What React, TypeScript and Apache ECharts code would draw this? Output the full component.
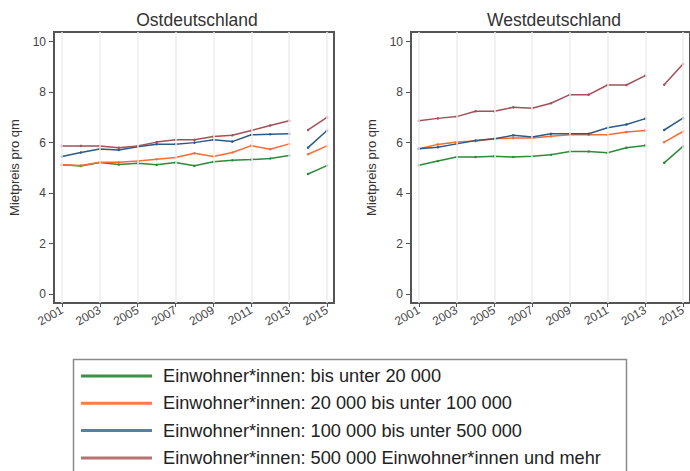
import React, { useEffect, useRef } from "react";
import * as echarts from "echarts";

const years = [2001, 2002, 2003, 2004, 2005, 2006, 2007, 2008, 2009, 2010, 2011, 2012, 2013, 2014, 2015];
const tickYears = [2001, 2003, 2005, 2007, 2009, 2011, 2013, 2015];
const yTicks = [0, 2, 4, 6, 8, 10];

const seriesNames = [
  "Einwohner*innen: bis unter 20 000",
  "Einwohner*innen: 20 000 bis unter 100 000",
  "Einwohner*innen: 100 000 bis unter 500 000",
  "Einwohner*innen: 500 000 Einwohner*innen und mehr",
];
const seriesColors = ["#2f8a3a", "#ff6a33", "#2e5a86", "#a3505a"];
const legendColors = ["#3d9145", "#ff7a45", "#5a7fa6", "#b57373"];
const panelTitles = ["Ostdeutschland", "Westdeutschland"];
const yAxisName = "Mietpreis pro qm";

// Ostdeutschland
const ostSmall = [5.12, 5.07, 5.21, 5.13, 5.18, 5.12, 5.21, 5.08, 5.24, 5.3, 5.33, 5.37, 5.49, 4.76, 5.09];
const ostMid = [5.12, 5.09, 5.22, 5.22, 5.27, 5.34, 5.41, 5.58, 5.45, 5.61, 5.88, 5.74, 5.95, 5.54, 5.87];
const ostLarge = [5.45, 5.61, 5.75, 5.71, 5.84, 5.94, 5.94, 6.0, 6.11, 6.04, 6.31, 6.33, 6.35, 5.8, 6.48];
const ostMetro = [5.87, 5.87, 5.87, 5.8, 5.87, 6.02, 6.11, 6.11, 6.24, 6.29, 6.48, 6.68, 6.87, 6.5, 7.0];

// Westdeutschland
const westSmall = [5.1, 5.27, 5.43, 5.43, 5.46, 5.43, 5.46, 5.52, 5.65, 5.65, 5.6, 5.8, 5.89, 5.2, 5.85];
const westMid = [5.76, 5.93, 6.02, 6.06, 6.15, 6.18, 6.18, 6.25, 6.31, 6.31, 6.31, 6.42, 6.48, 6.02, 6.44];
const westLarge = [5.76, 5.82, 5.95, 6.08, 6.15, 6.29, 6.22, 6.35, 6.35, 6.35, 6.59, 6.72, 6.95, 6.5, 6.97];
const westMetro = [6.87, 6.96, 7.03, 7.24, 7.24, 7.4, 7.36, 7.56, 7.9, 7.9, 8.28, 8.28, 8.65, 8.29, 9.11];

const panels = [
  [ostSmall, ostMid, ostLarge, ostMetro],
  [westSmall, westMid, westLarge, westMetro],
];

const FONT = "'Liberation Sans', Arial, sans-serif";
const gridLefts = [54, 411];

export default function App() {
  const ref = useRef<HTMLDivElement>(null);

  useEffect(() => {
    if (!ref.current) return;
    const chart = echarts.init(ref.current, undefined, { renderer: "svg" });

    const grids = gridLefts.map((left) => ({
      left,
      top: 32,
      width: 280,
      height: 271,
      show: true,
      borderColor: "#555",
      borderWidth: 2,
      backgroundColor: "#fff",
    }));

    const xAxes = gridLefts.map((_, i) => ({
      type: "value",
      gridIndex: i,
      min: 2000.58,
      max: 2015.37,
      axisLine: { show: true, onZero: false, lineStyle: { color: "#555", width: 2 } },
      axisTick: { show: true, customValues: tickYears, length: 4, lineStyle: { color: "#555" } },
      axisLabel: {
        customValues: tickYears,
        rotate: 30,
        fontSize: 12,
        color: "#444",
        fontFamily: FONT,
        margin: 6,
        formatter: (v: number) => String(v),
      },
      splitLine: { show: false },
    }));

    const yAxes = gridLefts.map((_, i) => ({
      type: "value",
      gridIndex: i,
      min: -0.35,
      max: 10.38,
      name: yAxisName,
      nameLocation: "middle",
      nameGap: 33,
      nameTextStyle: { fontSize: 13, color: "#333", fontFamily: FONT },
      axisLine: { show: true, lineStyle: { color: "#555", width: 2 } },
      axisTick: { show: true, customValues: yTicks, length: 5, lineStyle: { color: "#555" } },
      axisLabel: { customValues: yTicks, fontSize: 12, color: "#444", fontFamily: FONT, margin: 8 },
      splitLine: { show: false },
    }));

    const series: any[] = [];
    panels.forEach((groups, p) => {
      series.push({
        type: "line",
        xAxisIndex: p,
        yAxisIndex: p,
        data: [],
        silent: true,
        z: 1,
        markLine: {
          silent: true,
          symbol: "none",
          label: { show: false },
          lineStyle: { color: "#ececec", width: 1.5, type: "solid" },
          data: tickYears.map((y) => ({ xAxis: y })),
        },
      });
      groups.forEach((vals, k) => {
        const segA = years.slice(0, 13).map((y, j) => [y, vals[j]]);
        const segB = years.slice(13).map((y, j) => [y, vals[13 + j]]);
        [segA, segB].forEach((seg) => {
          series.push({
            name: seriesNames[k],
            type: "line",
            xAxisIndex: p,
            yAxisIndex: p,
            data: seg,
            z: 3,
            color: seriesColors[k],
            symbol: "circle",
            symbolSize: 2.5,
            showSymbol: true,
            lineStyle: { width: 1.5, color: seriesColors[k] },
            itemStyle: { color: seriesColors[k] },
          });
        });
      });
    });

    const legendTop = 376;
    const legendStep = 27.3;
    const legendGraphics: any[] = [
      {
        type: "rect",
        shape: { x: 73.5, y: 359.5, width: 553, height: 130 },
        style: { fill: "none", stroke: "#8a8a8a", lineWidth: 1.5 },
        silent: true,
      },
    ];
    seriesNames.forEach((name, k) => {
      const cy = legendTop + k * legendStep;
      legendGraphics.push({
        type: "line",
        shape: { x1: 81, y1: cy, x2: 152, y2: cy },
        style: { stroke: legendColors[k], lineWidth: 3 },
        silent: true,
      });
      legendGraphics.push({
        type: "text",
        x: 163,
        y: cy,
        style: {
          text: name,
          fill: "#222",
          fontSize: 18.2,
          fontFamily: FONT,
          verticalAlign: "middle",
          align: "left",
        },
        silent: true,
      });
    });

    chart.setOption({
      animation: false,
      backgroundColor: "#fff",
      textStyle: { fontFamily: FONT },
      title: panelTitles.map((t, i) => ({
        text: t,
        left: gridLefts[i] + 138,
        top: 6,
        textAlign: "center",
        textStyle: { fontSize: 17.5, fontWeight: "normal", color: "#333", fontFamily: FONT },
      })),
      grid: grids,
      xAxis: xAxes,
      yAxis: yAxes,
      graphic: legendGraphics,
      series,
    });

    return () => chart.dispose();
  }, []);

  return (
    <div
      ref={ref}
      style={{ position: "fixed", left: 0, top: 0, width: 690, height: 471, background: "#fff" }}
    />
  );
}
